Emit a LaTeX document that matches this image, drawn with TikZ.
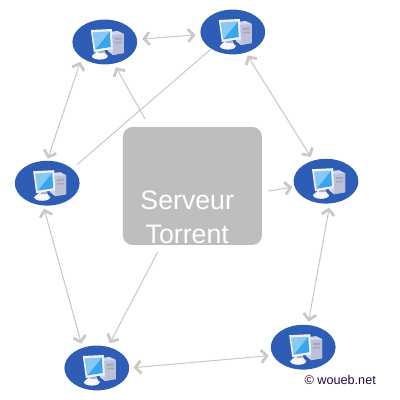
\documentclass[tikz,border=0pt]{standalone}
\usepackage{fontspec}
\setmainfont{Liberation Sans}
\usepackage{xcolor}
\definecolor{PosteBlue}{HTML}{2E5DB6}
\definecolor{ServerGrey}{HTML}{BEBEBE}
\definecolor{LinkGrey}{HTML}{C9C9C6}
\definecolor{ScreenBlue}{HTML}{38A6EE}
\definecolor{TowerLilac}{HTML}{CDD0EE}
\definecolor{MarkInk}{HTML}{240A3C}
\usetikzlibrary{arrows.meta, shapes.geometric}
\tikzset{
  poste/.style={ellipse,fill=PosteBlue,minimum width=1.62cm,minimum height=1.12cm,inner sep=0pt},
  serveur/.style={rectangle,rounded corners=0.24cm,fill=ServerGrey,minimum width=3.475cm,minimum height=2.95cm,inner sep=0pt},
  lien/.style={draw=LinkGrey,line width=0.75pt},
  peer/.style={lien,{Straight Barb[length=4pt,width=9pt,line width=2pt]}-{Straight Barb[length=4pt,width=9pt,line width=2pt]}},
  seed/.style={lien,-{Straight Barb[length=4pt,width=9pt,line width=2pt]}},
  ordi/.pic={
    % tower
    \fill[TowerLilac!85!white] (3,10)--(13,11)--(19,8)--(19,-11)--(8,-13)--(3,-9)--cycle;
    \fill[TowerLilac!80!gray] (7,7)--(19,8)--(19,-11)--(8,-13)--cycle;
    \fill[TowerLilac!50!gray] (10,4)--(17,4.5)--(17,2.5)--(10,2)--cycle;
    \fill[TowerLilac!50!gray] (10,0)--(17,0.5)--(17,-1)--(10,-1.5)--cycle;
    % base
    \fill[white!85!TowerLilac] (-6,-8)--(-1,-8)--(1,-12)--(3,-14) arc(0:-180:8 and 3.6)--(-11,-12)--cycle;
    \fill[TowerLilac!60!gray] (-6,-8)--(-1,-8)--(0,-11)--(-7,-11)--cycle;
    % monitor
    \fill[white!70!TowerLilac] (-14,12)--(7,13)--(8,-7)--(-11,-10)--cycle;
    \fill[ScreenBlue] (-12,9.5)--(5,10.5)--(6,-5)--(-9.5,-7.5)--cycle;
    \fill[white,opacity=0.4] (-12,9.5)--(5,10.5)--(-9.5,-7.5)--cycle;
  }
}
\begin{document}
\begin{tikzpicture}
  \useasboundingbox (0,0) rectangle (10,10);
  \node[poste] (hautg) at (2.62,8.95) {};
  \node[poste] (hautd) at (5.82,9.2) {};
  \node[poste] (milg) at (1.18,5.42) {};
  \node[poste] (mild) at (8.15,5.47) {};
  \node[poste] (basg) at (2.42,0.8) {};
  \node[poste] (basd) at (7.58,1.32) {};
  \node[serveur] (srv) at (4.81,5.35) {};
  \node[white,font=\fontsize{19}{24}\selectfont,align=center] (srvtxt) at (4.68,4.56) {Serveur\\Torrent};
  \node[MarkInk,font=\fontsize{9}{11}\selectfont,anchor=east] (marque) at (9.52,0.49) {© woueb.net};
  \foreach \p in {hautg,hautd,milg,mild,basg,basd}
    \pic[scale=0.025] at (\p) {ordi};
  \draw[peer,shorten <=0.12cm,shorten >=0.12cm] (hautg) -- (hautd);
  \draw[peer,shorten <=0.05cm,shorten >=0.1cm] (milg.north) -- (hautg.south west);
  \draw[peer,shorten <=0.08cm,shorten >=0.1cm] (hautd) -- (mild);
  \draw[peer,shorten <=0.1cm,shorten >=0.08cm] (mild.280) -- (basd.78);
  \draw[peer,shorten <=0.1cm,shorten >=0.1cm] (basg.east) -- (basd.195);
  \draw[peer,shorten <=0.08cm,shorten >=0.1cm] (milg.260) -- (basg.125);
  \draw[lien,shorten >=0.15cm] (hautd.218) -- (milg.30);
  \draw[seed,shorten <=0.22cm,shorten >=0.1cm] (srv.126) -- (hautg.293);
  \draw[seed,shorten <=0.15cm,shorten >=0.05cm] (srv.355) -- (mild.190);
  \draw[seed,shorten <=0.2cm,shorten >=0.1cm] (srv) -- (basg);
\end{tikzpicture}
\end{document}
